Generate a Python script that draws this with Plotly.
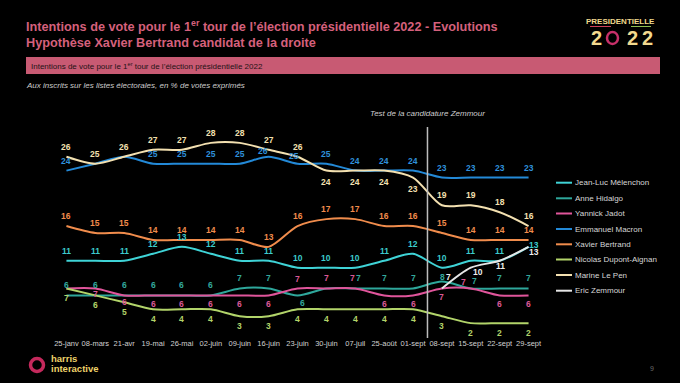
import plotly.graph_objects as go

dates = ["25-janv", "08-mars", "21-avr", "19-mai", "26-mai", "02-juin", "09-juin", "16-juin",
         "23-juin", "30-juin", "07-juil", "25-août", "01-sept", "08-sept", "15-sept", "22-sept", "29-sept"]

melenchon = [11, 11, 11, 12, 13, 12, 11, 11, 10, 10, 10, 11, 12, 10, 11, 11, 13]
hidalgo   = [6, 6, 6, 6, 6, 6, 7, 7, 6, 7, 7, 7, 7, 8, 7, 7, 7]
jadot     = [7, 7, 6, 6, 6, 6, 6, 6, 7, 7, 7, 6, 6, 7, 7, 6, 6]
macron    = [24, 25, 26, 25, 25, 25, 25, 26, 25, 25, 24, 24, 24, 23, 23, 23, 23]
bertrand  = [16, 15, 15, 14, 14, 14, 14, 13, 16, 17, 17, 16, 16, 15, 14, 14, 14]
nda       = [7, 6, 5, 4, 4, 4, 3, 3, 4, 4, 4, 4, 4, 3, 2, 2, 2]
lepen     = [26, 25, 26, 27, 27, 28, 28, 27, 26, 24, 24, 24, 23, 19, 19, 18, 16]
zemmour   = [None] * 13 + [7, 10, 11, 13]

names = ["Jean-Luc Mélenchon", "Anne Hidalgo", "Yannick Jadot", "Emmanuel Macron",
         "Xavier Bertrand", "Nicolas Dupont-Aignan", "Marine Le Pen", "Eric Zemmour"]
values = [melenchon, hidalgo, jadot, macron, bertrand, nda, lepen, zemmour]
colors = ["#3fd3d6", "#2ea79b", "#e0559b", "#2389d7", "#f08c4c", "#b2d46a", "#f3e0b0", "#e6e6e6"]
label_colors = ["#3ccbcd", "#33a99d", "#dc5896", "#2f90da", "#f08c4c", "#b2d46a", "#f3e0b0", "#eeeeee"]

# label placement (style only)
default_shift = [10, 10, -9, 10, 10, -10, 10, -5]
exceptions = {
    (6, 9): (0, -11), (6, 10): (0, -11), (6, 11): (0, -11), (6, 12): (0, -11),
    (2, 1): (0, -6), (2, 2): (0, -7), (2, 8): (0, 9), (2, 9): (0, 10), (2, 10): (-3, 10),
    (2, 14): (-7, 6),
    (1, 8): (5, -8), (1, 10): (3, 10), (1, 13): (1, 5), (1, 14): (4, 7),
    (3, 7): (-6, 6), (3, 8): (-4, 8),
    (7, 13): (7, 11), (7, 14): (7, -4), (7, 15): (1, -5), (7, 16): (5, -5),
    (0, 16): (5, 2),
}
hidden = {(3, 1), (3, 2), (2, 0), (1, 9)}

L, R, T, B = 52, 543, 129, 337
W, H = R - L, B - T


def px(x):
    return (x - L) / W


def py(y):
    return (B - y) / H


FONT = "Liberation Sans, Arial, sans-serif"

fig = go.Figure()
for i, (n, v, c) in enumerate(zip(names, values, colors)):
    fig.add_trace(go.Scatter(x=dates, y=v, name=n, mode="lines",
                             line=dict(color=c, width=2, shape="spline", smoothing=0.8),
                             showlegend=False, hoverinfo="x+y+name"))

annotations = []
for i, v in enumerate(values):
    for j, val in enumerate(v):
        if val is None or (i, j) in hidden:
            continue
        xs, ys = exceptions.get((i, j), (0, default_shift[i]))
        annotations.append(dict(x=dates[j], y=val, text=f"<b>{val}</b>", showarrow=False,
                                xshift=xs, yshift=ys, xref="x", yref="y",
                                font=dict(size=8.5, color=label_colors[i], family=FONT)))

# manual legend
leg_y = [182.7, 198.3, 213.5, 229, 244.3, 259.5, 275, 290.7]
shapes = []
for i, n in enumerate(names):
    shapes.append(dict(type="line", xref="paper", yref="paper", x0=px(556), x1=px(572),
                       y0=py(leg_y[i]), y1=py(leg_y[i]), line=dict(color=colors[i], width=2)))
    annotations.append(dict(xref="paper", yref="paper", x=px(572.5), y=py(leg_y[i]), text=n,
                            showarrow=False, xanchor="left", yanchor="middle",
                            font=dict(size=8, color="#d6d6d6", family=FONT)))

# Zemmour test vertical line
shapes.append(dict(type="line", xref="x", yref="paper", x0=12.5, x1=12.5, y0=py(338), y1=py(127),
                   line=dict(color="#bdbdbd", width=1.5)))
annotations.append(dict(xref="x", yref="paper", x=12.5, y=py(113), text="<i>Test de la candidature Zemmour</i>",
                        showarrow=False, xanchor="center", yanchor="middle",
                        font=dict(size=8, color="#cfcfcf", family=FONT)))

# Titles
title_col = "#d5607c"
annotations.append(dict(xref="paper", yref="paper", x=px(24), y=py(26), xanchor="left", yanchor="middle",
                        text="<b>Intentions de vote pour le 1<sup>er</sup> tour de l’élection présidentielle 2022 - Evolutions</b>",
                        showarrow=False, font=dict(size=12.7, color=title_col, family=FONT)))
annotations.append(dict(xref="paper", yref="paper", x=px(24), y=py(43), xanchor="left", yanchor="middle",
                        text="<b>Hypothèse Xavier Bertrand candidat de la droite</b>",
                        showarrow=False, font=dict(size=12.7, color=title_col, family=FONT)))
shapes.append(dict(type="rect", xref="paper", yref="paper", x0=px(26), x1=px(660), y0=py(74), y1=py(57),
                   fillcolor="#c85a73", line=dict(width=0), layer="below"))
annotations.append(dict(xref="paper", yref="paper", x=px(29), y=py(65.5), xanchor="left", yanchor="middle",
                        text="Intentions de vote pour le 1<sup>er</sup> tour de l’élection présidentielle 2022",
                        showarrow=False, font=dict(size=8, color="#1e1216", family=FONT)))
annotations.append(dict(xref="paper", yref="paper", x=px(24), y=py(85), xanchor="left", yanchor="middle",
                        text="<i>Aux inscrits sur les listes électorales, en % de votes exprimés</i>",
                        showarrow=False, font=dict(size=8, color="#cccccc", family=FONT)))

# Presidentielle 2022 logo
annotations.append(dict(xref="paper", yref="paper", x=px(620.5), y=py(21), xanchor="center", yanchor="middle",
                        text="<b>PRESIDENTIELLE</b>", showarrow=False,
                        font=dict(size=8, color="#f2d98e", family=FONT)))
shapes.append(dict(type="line", xref="paper", yref="paper", x0=px(590), x1=px(611), y0=py(26.5), y1=py(26.5),
                   line=dict(color="#d0405a", width=1)))
shapes.append(dict(type="line", xref="paper", yref="paper", x0=px(631), x1=px(651), y0=py(26.5), y1=py(26.5),
                   line=dict(color="#8fbf50", width=1)))
for xc in [596, 632, 647]:
    annotations.append(dict(xref="paper", yref="paper", x=px(xc), y=py(38), xanchor="center", yanchor="middle",
                            text="<b>2</b>", showarrow=False,
                            font=dict(size=20, color="#f2d98e", family=FONT)))
shapes.append(dict(type="circle", xref="paper", yref="paper", x0=px(607), x1=px(618), y0=py(44), y1=py(32),
                   line=dict(color="#c8306a", width=2.5)))

# harris interactive logo
shapes.append(dict(type="circle", xref="paper", yref="paper", x0=px(30.5), x1=px(43.5), y0=py(371.5), y1=py(358.5),
                   line=dict(color="#c4295c", width=3.5)))
annotations.append(dict(xref="paper", yref="paper", x=px(49), y=py(358), xanchor="left", yanchor="middle",
                        text="<b>harris</b>", showarrow=False, font=dict(size=9.5, color="#eed36a", family=FONT)))
annotations.append(dict(xref="paper", yref="paper", x=px(49), y=py(368.5), xanchor="left", yanchor="middle",
                        text="<b>interactive</b>", showarrow=False, font=dict(size=9.5, color="#eed36a", family=FONT)))
annotations.append(dict(xref="paper", yref="paper", x=px(652), y=py(368), xanchor="center", yanchor="middle",
                        text="9", showarrow=False, font=dict(size=7, color="#6a6a6a", family=FONT)))

fig.update_layout(
    width=680, height=383,
    margin=dict(l=L, r=680 - R, t=T, b=383 - B, pad=0, autoexpand=False),
    paper_bgcolor="#000000", plot_bgcolor="#000000",
    showlegend=False,
    xaxis=dict(type="category", range=[-0.5, 16.5], showgrid=False, zeroline=False, showline=False,
               ticks="", tickangle=0, automargin=False,
               tickfont=dict(size=7.5, color="#d0d0d0", family=FONT), fixedrange=True),
    yaxis=dict(range=[0, 30], showgrid=False, zeroline=False, showline=False, showticklabels=False,
               automargin=False, fixedrange=True),
    annotations=annotations,
    shapes=shapes,
    font=dict(family=FONT),
)

fig.write_html("out.html", config={"displayModeBar": False},
               post_script="document.body.style.margin='0';document.body.style.background='#000';")
